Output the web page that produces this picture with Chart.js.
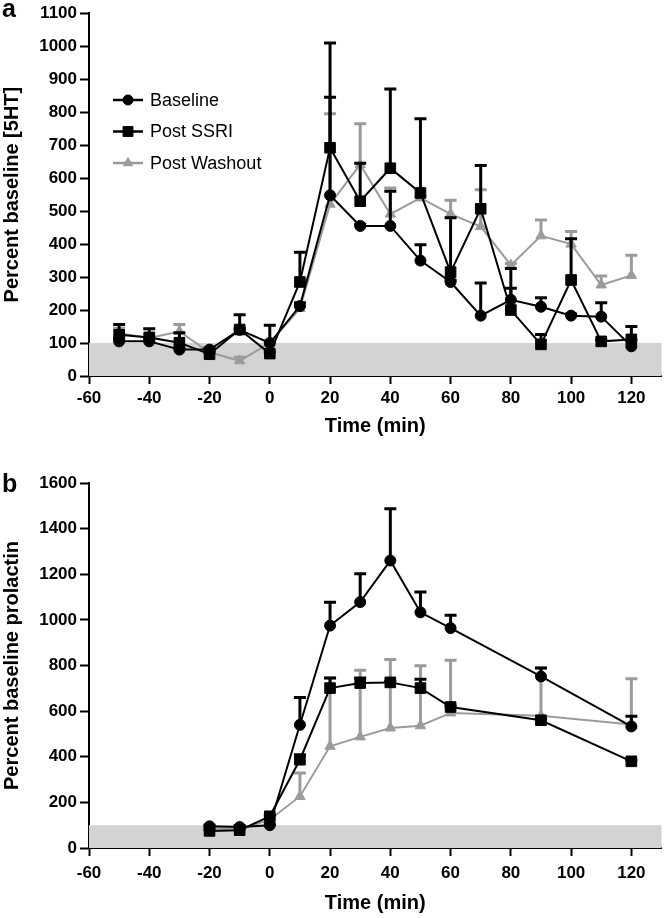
<!DOCTYPE html>
<html>
<head>
<meta charset="utf-8">
<script src="https://cdn.jsdelivr.net/npm/chart.js@4.4.1/dist/chart.umd.min.js"></script>
<style>
  html, body { margin: 0; padding: 0; background: #fff; }
  #wrap { position: relative; width: 670px; height: 918px; overflow: hidden; }
  .panel { position: absolute; left: 0; width: 670px; }
  .letter { position: absolute; left: 2px; font: bold 25px "Liberation Sans", Arial, sans-serif; line-height: 25px; color: #000; }
</style>
</head>
<body>
<div id="wrap">
  <div class="panel" style="top:0;height:440px"><canvas id="chartA" width="670" height="440"></canvas></div>
  <div class="panel" style="top:440px;height:478px"><canvas id="chartB" width="670" height="478"></canvas></div>
  <div class="letter" style="top:-4px">a</div>
  <div class="letter" style="top:471px">b</div>
</div>
<script>
// ---- data ----
const TIME_A = [-50, -40, -30, -20, -10, 0, 10, 20, 30, 40, 50, 60, 70, 80, 90, 100, 110, 120];
const baseA     = [105, 105, 80, 80, 140, 100, 212, 548, 455, 455, 350, 285, 183, 231, 210, 183, 180, 90];
const baseAErr  = [10, 10, 5, 5, 5, 54, 10, 297, 5, 105, 48, 5, 99, 35, 27, 5, 42, 20];
const ssriA     = [125, 117, 101, 66, 141, 68, 285, 692, 530, 630, 555, 315, 507, 200, 96, 291, 105, 111];
const ssriAErr  = [31, 26, 30, 5, 45, 5, 90, 318, 115, 240, 225, 165, 131, 126, 30, 125, 5, 39];
const washA     = [130, 115, 135, 72, 46, 100, 205, 521, 641, 491, 540, 491, 453, 336, 425, 400, 276, 305];
const washAErr  = [15, 10, 21, 5, 11, 5, 10, 274, 124, 79, 5, 42, 112, 5, 48, 38, 27, 61];

const TIME_B = [-20, -10, 0, 10, 20, 30, 40, 50, 60, 90, 120];
const baseB     = [95, 92, 100, 540, 975, 1078, 1260, 1033, 964, 752, 533];
const baseBErr  = [5, 5, 5, 120, 102, 124, 227, 89, 56, 37, 44];
const ssriB     = [75, 78, 139, 387, 701, 723, 726, 701, 618, 560, 380];
const ssriBErr  = [5, 5, 5, 22, 44, 22, 5, 39, 5, 5, 5];
const washB     = [88, 80, 124, 226, 446, 487, 526, 536, 592, 580, 541];
const washBErr  = [5, 5, 5, 103, 299, 292, 300, 263, 231, 209, 201];

const X_TICKS = [-60, -40, -20, 0, 20, 40, 60, 80, 100, 120];
const BAND_TOP = 100;

const SERIES_NAMES = ['Baseline', 'Post SSRI', 'Post Washout'];

const FONT = '"Liberation Sans", Arial, sans-serif';
const GREY = '#9b9b9b';

function pts(xs, ys) {
  return xs.map((x, i) => ({ x: x, y: ys[i] }));
}

function makeSets(times, base, baseErr, ssri, ssriErr, wash, washErr) {
  return [
    { label: SERIES_NAMES[0], data: pts(times, base), err: baseErr,
      borderColor: '#000', backgroundColor: '#000', borderWidth: 2,
      pointStyle: 'circle', pointRadius: 5.5, pointBorderWidth: 1, pointHoverRadius: 5.5 },
    { label: SERIES_NAMES[1], data: pts(times, ssri), err: ssriErr,
      borderColor: '#000', backgroundColor: '#000', borderWidth: 2,
      pointStyle: 'rect', pointRadius: 7.5, pointBorderWidth: 1, pointHoverRadius: 7.5 },
    { label: SERIES_NAMES[2], data: pts(times, wash), err: washErr,
      borderColor: GREY, backgroundColor: GREY, borderWidth: 2,
      pointStyle: 'triangle', pointRadius: 6, pointBorderWidth: 1, pointHoverRadius: 6 }
  ];
}

// grey reference band 0..100
const bandPlugin = {
  id: 'band',
  beforeDatasetsDraw(chart) {
    const { ctx, chartArea, scales } = chart;
    const y0 = scales.y.getPixelForValue(0);
    const y1 = scales.y.getPixelForValue(BAND_TOP);
    ctx.save();
    ctx.fillStyle = '#d3d3d3';
    ctx.fillRect(chartArea.left, y1, chartArea.right - chartArea.left, y0 - y1);
    ctx.restore();
  }
};

// one-sided error bars (mean + SEM)
const errPlugin = {
  id: 'errbars',
  afterDatasetDraw(chart, args) {
    const ds = chart.data.datasets[args.index];
    const { ctx, scales } = chart;
    ctx.save();
    ctx.strokeStyle = ds.borderColor;
    ctx.lineWidth = 3;
    ds.data.forEach((p, i) => {
      const e = ds.err[i];
      if (!e) return;
      const px = scales.x.getPixelForValue(p.x);
      const py = scales.y.getPixelForValue(p.y);
      const top = scales.y.getPixelForValue(p.y + e);
      ctx.beginPath();
      ctx.moveTo(px, py);
      ctx.lineTo(px, top);
      ctx.moveTo(px - 6, top);
      ctx.lineTo(px + 6, top);
      ctx.stroke();
    });
    ctx.restore();
  }
};

// legend drawn as line + marker, like the original
const lineLegend = {
  id: 'lineLegend',
  afterDraw(chart, args, opts) {
    if (!opts.show) return;
    const ctx = chart.ctx;
    ctx.save();
    chart.data.datasets.forEach((ds, i) => {
      const y = opts.y + i * opts.gap;
      ctx.strokeStyle = ds.borderColor;
      ctx.fillStyle = ds.backgroundColor;
      ctx.lineWidth = 2.5;
      ctx.beginPath();
      ctx.moveTo(opts.x, y);
      ctx.lineTo(opts.x + 30, y);
      ctx.stroke();
      ctx.lineWidth = 1;
      Chart.helpers.drawPoint(ctx, { pointStyle: ds.pointStyle, radius: ds.pointRadius - 0.5, rotation: 0, borderWidth: 1 }, opts.x + 15, y);
      ctx.fillStyle = '#000';
      ctx.font = '18px ' + FONT;
      ctx.textBaseline = 'middle';
      ctx.textAlign = 'left';
      ctx.fillText(ds.label, opts.x + 37, y + 1);
    });
    ctx.restore();
  }
};

function makeOptions(yMax, yStep, yTitle, pad, xHeight, tickPad, titlePad, legend) {
  const tickFont = { family: FONT, size: 17, weight: 'bold' };
  const titleFont = { family: FONT, size: 20, weight: 'bold' };
  return {
    responsive: false,
    animation: false,
    events: [],
    layout: { padding: pad },
    plugins: {
      legend: { display: false },
      tooltip: { enabled: false },
      lineLegend: legend
    },
    scales: {
      x: {
        type: 'linear',
        min: -60,
        max: 130,
        afterBuildTicks: s => { s.ticks = X_TICKS.map(v => ({ value: v })); },
        afterFit: s => { s.height = xHeight; },
        ticks: { font: tickFont, color: '#000', padding: tickPad, maxRotation: 0, autoSkip: false,
                 callback: v => String(v) },
        grid: { display: true, drawOnChartArea: false, drawTicks: true, tickLength: 8, tickWidth: 2, tickColor: '#000' },
        border: { display: true, color: '#000', width: 2 },
        title: { display: true, text: 'Time (min)', font: titleFont, color: '#000', padding: { top: 0, bottom: titlePad } }
      },
      y: {
        min: 0,
        max: yMax,
        afterFit: s => { s.width = 89; },
        ticks: { stepSize: yStep, font: tickFont, color: '#000', padding: 3, callback: v => String(v) },
        grid: { display: true, drawOnChartArea: false, drawTicks: true, tickLength: 9, tickWidth: 2, tickColor: '#000' },
        border: { display: true, color: '#000', width: 2 },
        title: { display: true, text: yTitle, font: titleFont, color: '#000', padding: { top: 0, bottom: 0 } }
      }
    }
  };
}

new Chart(document.getElementById('chartA').getContext('2d'), {
  type: 'line',
  data: { datasets: makeSets(TIME_A, baseA, baseAErr, ssriA, ssriAErr, washA, washAErr) },
  options: makeOptions(1100, 100, 'Percent baseline [5HT]', { top: 10, right: 3, left: 0, bottom: 0 }, 64, 4, 2,
    { show: true, x: 113, y: 100, gap: 31.5 }),
  plugins: [bandPlugin, errPlugin, lineLegend]
});

new Chart(document.getElementById('chartB').getContext('2d'), {
  type: 'line',
  data: { datasets: makeSets(TIME_B, baseB, baseBErr, ssriB, ssriBErr, washB, washBErr) },
  options: makeOptions(1600, 200, 'Percent baseline prolactin', { top: 43, right: 3, left: 0, bottom: 0 }, 70, 7, 3,
    { show: false }),
  plugins: [bandPlugin, errPlugin, lineLegend]
});
</script>
</body>
</html>
